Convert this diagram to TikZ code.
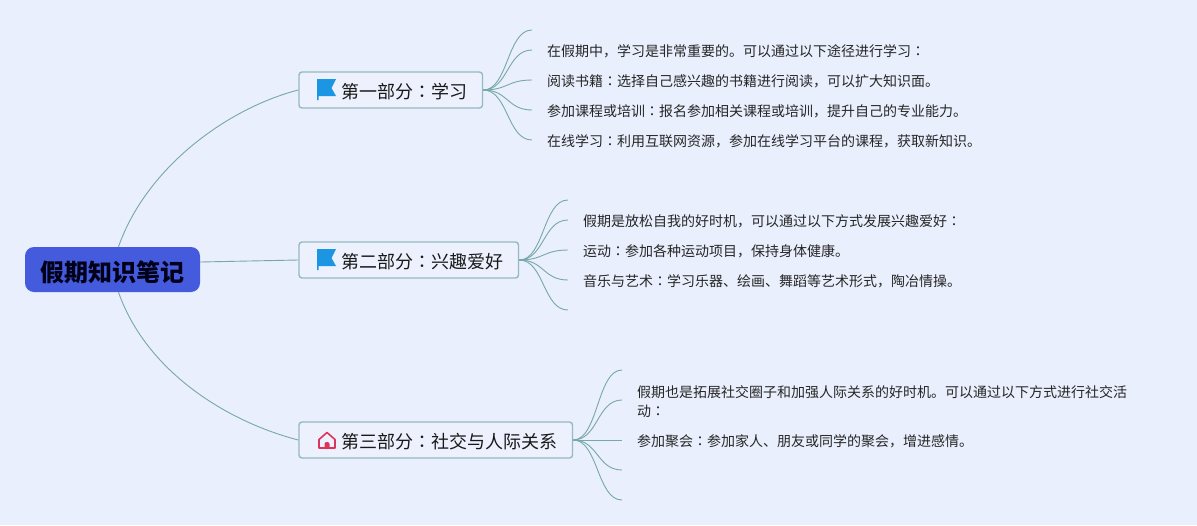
\documentclass[tikz,border=0pt]{standalone}
\usepackage{fontspec}
\newfontfamily\cjk{Noto Sans CJK SC}
\newfontfamily\cjktc{Noto Sans CJK TC}
\newcommand{\zhcolon}{{\cjktc ：}}
\definecolor{paper}{RGB}{233,239,253}
\definecolor{linegreen}{RGB}{118,168,170}
\definecolor{boxedge}{RGB}{150,186,192}
\definecolor{rootblue}{RGB}{67,91,220}
\definecolor{flagblue}{RGB}{28,150,226}
\definecolor{homered}{RGB}{222,52,92}
\tikzset{
    rootbox/.style={fill=rootblue, rounded corners=9pt, minimum width=175pt, minimum height=45pt, inner sep=0pt, text height=25pt, text depth=2pt, font=\cjk\bfseries\fontsize{24}{28}\selectfont, text=black!90!blue},
    partbox/.style={draw=boxedge, line width=1.4pt, fill=paper!85!white, rounded corners=3pt, anchor=west, minimum height=36pt, inner xsep=15.5pt, inner ysep=0pt, text height=19pt, text depth=2.4pt, font=\cjk\fontsize{18}{22}\selectfont, text=black!90},
    leaf/.style={anchor=west, inner sep=0pt, align=left, font=\cjk\fontsize{14}{19.5}\selectfont, text=black!85},
    mainline/.style={draw=linegreen, line width=0.9pt},
    twig/.style={draw=linegreen, line width=0.9pt},
    flagicon/.pic={
        \fill[flagblue] (0,-11) -- (19,-11) -- (14.5,-2) -- (19,6) -- (1.5,6) -- (1.5,10) -- (0,10) -- cycle;
    },
    homeicon/.pic={
        \draw[homered, line width=1.6pt, line join=round] (1,8) -- (1,-0.5) -- (9,-7.5) -- (17,-0.5) -- (17,8) -- cycle;
        \fill[homered, rounded corners=2pt] (6.5,9) -- (6.5,2) -- (11.5,2) -- (11.5,9) -- cycle;
    }
}
\begin{document}
\begin{tikzpicture}[x=1pt,y=-1pt]
    \fill[paper] (0,0) rectangle (1197,525);
    \useasboundingbox (0,0) rectangle (1197,525);

    \node[rootbox] (root) at (112.5,269.5) {假期知识笔记};

    \node[partbox] (part1) at (298.3,90) {\hspace*{26.5pt}第一部分\zhcolon 学习};
    \node[partbox] (part2) at (298.3,260) {\hspace*{26.5pt}第二部分\zhcolon 兴趣爱好};
    \node[partbox] (part3) at (298.3,440) {\hspace*{26.5pt}第三部分\zhcolon 社交与人际关系};

    \pic at (317,90) {flagicon};
    \pic at (317,260) {flagicon};
    \pic at (318,440) {homeicon};

    % root to parts
    \draw[mainline] ([xshift=6pt]root.north) .. controls +(28,-80) and +(-70,18) .. (part1.west);
    \draw[mainline] ([yshift=7.5pt]root.east) -- (part2.west);
    \draw[mainline] ([xshift=6pt]root.south) .. controls +(28,80) and +(-70,-18) .. (part3.west);

    % free ends
    \foreach \y [count=\i] in {30,50,80,110,140} {
        \coordinate (end1\i) at (532,\y);
        \draw[twig] (part1.east) .. controls +(25,0) and +(-25,0) .. (end1\i);
    }
    \foreach \y [count=\i] in {200,220,250,280,310} {
        \coordinate (end2\i) at (568,\y);
        \draw[twig] (part2.east) .. controls +(25,0) and +(-25,0) .. (end2\i);
    }
    \foreach \y [count=\i] in {370,400,440,470,500} {
        \coordinate (end3\i) at (622,\y);
        \draw[twig] (part3.east) .. controls +(25,0) and +(-25,0) .. (end3\i);
    }

    \node[leaf] (leaf11) at (547,51) {在假期中，学习是非常重要的。可以通过以下途径进行学习\zhcolon};
    \node[leaf] (leaf12) at (547,81) {阅读书籍\zhcolon 选择自己感兴趣的书籍进行阅读，可以扩大知识面。};
    \node[leaf] (leaf13) at (547,111) {参加课程或培训\zhcolon 报名参加相关课程或培训，提升自己的专业能力。};
    \node[leaf] (leaf14) at (547,141) {在线学习\zhcolon 利用互联网资源，参加在线学习平台的课程，获取新知识。};

    \node[leaf] (leaf21) at (583,221) {假期是放松自我的好时机，可以通过以下方式发展兴趣爱好\zhcolon};
    \node[leaf] (leaf22) at (583,251) {运动\zhcolon 参加各种运动项目，保持身体健康。};
    \node[leaf] (leaf23) at (583,281) {音乐与艺术\zhcolon 学习乐器、绘画、舞蹈等艺术形式，陶冶情操。};

    \node[leaf] (leaf31) at (637,401.5) {假期也是拓展社交圈子和加强人际关系的好时机。可以通过以下方式进行社交活\\动\zhcolon};
    \node[leaf] (leaf32) at (637,441) {参加聚会\zhcolon 参加家人、朋友或同学的聚会，增进感情。};
\end{tikzpicture}
\end{document}
